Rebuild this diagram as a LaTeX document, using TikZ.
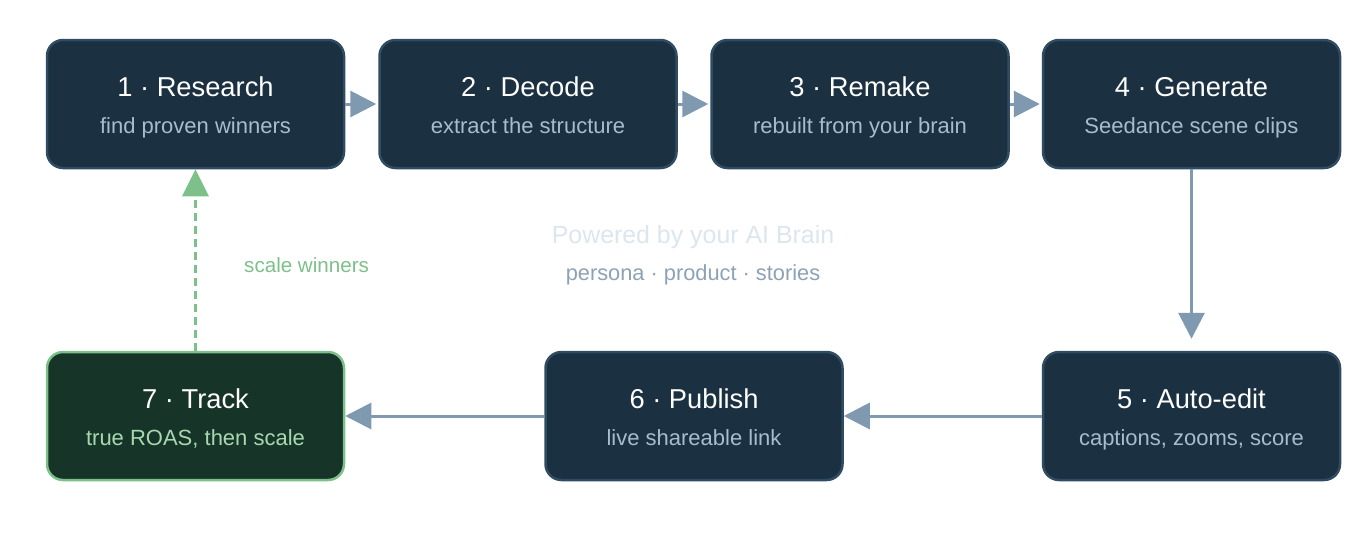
\documentclass[tikz,border=0pt]{standalone}
\usepackage{fontspec}
\setmainfont{Liberation Sans}
\usetikzlibrary{arrows.meta}
\definecolor{boxfill}{HTML}{1B3041}
\definecolor{boxline}{HTML}{2F4C62}
\definecolor{subtxt}{HTML}{A8BCCC}
\definecolor{conncol}{HTML}{7F9AB0}
\definecolor{trackfill}{HTML}{173428}
\definecolor{trackline}{HTML}{7DC08A}
\definecolor{tracksub}{HTML}{A8D8B0}
\definecolor{powered}{HTML}{DCE6EF}
\definecolor{persona}{HTML}{8DA2B6}
\tikzset{
  stepbox/.style={rectangle, rounded corners=16pt, minimum width=297pt, minimum height=128pt,
    fill=boxfill, draw=boxline, line width=2.5pt, inner sep=0pt},
  trackbox/.style={stepbox, fill=trackfill, draw=trackline},
  ttl/.style={text=white, font=\fontsize{27.3}{31}\selectfont, inner sep=0pt, anchor=base},
  sub/.style={text=subtxt, font=\fontsize{22}{26}\selectfont, inner sep=0pt, anchor=base},
  conn/.style={draw=conncol, line width=3pt, -{Triangle[length=26pt,width=26pt]}},
  back/.style={draw=trackline, line width=3pt, dash pattern=on 8pt off 5pt, -{Triangle[length=27pt,width=26pt]}}
}
\begin{document}
\begin{tikzpicture}[x=1pt,y=-1pt]
\useasboundingbox[fill=white] (0,0) rectangle (1360,552);
\node[stepbox] (b1) at (195.5,104) {};
\node[stepbox] (b2) at (528,104) {};
\node[stepbox] (b3) at (860,104) {};
\node[stepbox] (b4) at (1191.5,104) {};
\node[stepbox] (b5) at (1191.5,416) {};
\node[stepbox] (b6) at (694,416) {};
\node[trackbox] (b7) at (195.5,416) {};
\foreach \n/\t/\s in {b1/1 · Research/find proven winners, b2/2 · Decode/extract the structure, b3/3 · Remake/rebuilt from your brain, b4/4 · Generate/Seedance scene clips, b5/5 · Auto-edit/{captions, zooms, score}, b6/6 · Publish/live shareable link}{
  \node[ttl] (\n t) at ([yshift=7.5pt]\n.center) {\t};
  \node[sub] (\n s) at ([yshift=-29.5pt]\n.center) {\s};
}
\node[ttl] (b7t) at ([yshift=7.5pt]b7.center) {7 · Track};
\node[sub, text=tracksub] (b7s) at ([yshift=-29.5pt]b7.center) {true ROAS, then scale};
\draw[conn, shorten >=2pt] (b1.east) -- (b2.west);
\draw[conn, shorten >=2pt] (b2.east) -- (b3.west);
\draw[conn, shorten >=2pt] (b3.east) -- (b4.west);
\draw[conn, shorten >=12pt] (b4.south) -- (b5.north);
\draw[conn, shorten >=0pt] (b5.west) -- (b6.east);
\draw[conn, shorten >=0pt] (b6.west) -- (b7.east);
\draw[back, shorten >=0pt] (b7.north) -- (b1.south);
\node[text=trackline, font=\fontsize{20.6}{24}\selectfont, anchor=base west, inner sep=0pt] (lbl) at (244,272) {scale winners};
\node[text=powered, font=\fontsize{24.9}{29}\selectfont, anchor=base, inner sep=0pt] (pw) at (693,243.5) {Powered by your AI Brain};
\node[text=persona, font=\fontsize{21.8}{25}\selectfont, anchor=base, inner sep=0pt] (ps) at (693,280) {persona · product · stories};
\end{tikzpicture}
\end{document}
